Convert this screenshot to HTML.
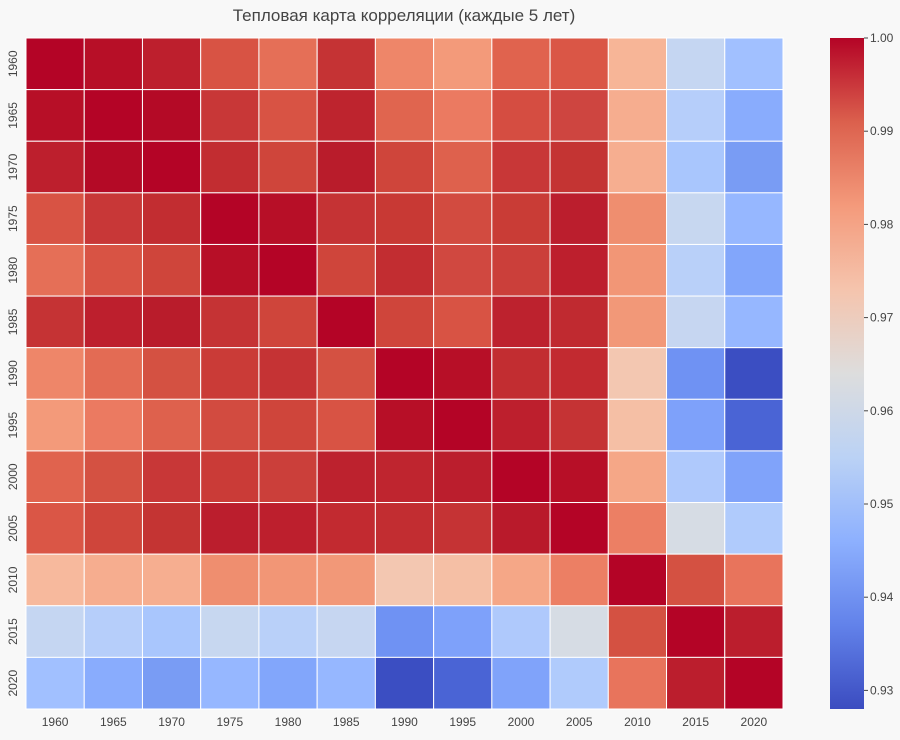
<!DOCTYPE html>
<html><head><meta charset="utf-8"><style>body{margin:0;background:#f8f8f8}svg text{font-family:"Liberation Sans",sans-serif;fill:#444}</style></head>
<body>
<svg id="s" width="900" height="735" xmlns="http://www.w3.org/2000/svg">
<rect width="900" height="735" fill="#f8f8f8"/>
<text x="404" y="21" font-size="17" text-anchor="middle">Тепловая карта корреляции (каждые 5 лет)</text>
<g id="g"></g>
</svg>
<script>
const C=[
"b40426 b70f27 bd1f2d d85344 e56f57 c53334 ee8669 f39a7a e0634e da5646 f7b597 c5d6f2 a1c0ff",
"b70f27 b40426 b40a26 c83737 d85344 be242e e0654f eb7a61 d54d41 ce4540 f6ad8f b6cefa 89acfd",
"bd1f2d b40a26 b40426 c22d31 cf453b b91c2b cf453b de614d c83737 c43433 f6ae90 a9c6fd 799cf4",
"d85344 c83737 c22d31 b40426 b70f27 c53334 c83934 d24b40 c93c36 bb1e2d ef8e6f c7d7f0 96b7ff",
"e56f57 d85344 cf453b b70f27 b40426 cf453b c22d31 d04840 cb3f3a bd1f2d f29676 b9d0f9 82a6fb",
"c53334 bd1f2d b91c2b c53334 cf453b b40426 cf453b d85344 bd222e c02a30 f29878 c6d6f1 96b7ff",
"ee8669 e36b54 d45142 ca3b37 c53334 d45142 b40426 b70f27 c22d31 c22a30 f3c7b1 6f92f3 3b4ec2",
"f39a7a eb7a61 de614d d24b40 cf453b d85344 b70f27 b40426 bd1f2d c53334 f5bfa5 7ea1fa 4a64d5",
"e0634e d45142 c83737 ca3b37 cb3f3a bd222e bf252f bb1e2d b40426 b70f27 f5a787 afc9fc 80a3fa",
"da5646 cf453b c43433 bb1e2d bd1f2d c22a30 c22d31 c53334 b91a2b b40426 ec7f64 d6dce4 b0cbfc",
"f7b99d f6ad8f f6ae90 ef8e6f f29676 f29878 f3c7b1 f5bfa5 f5a787 ec7f64 b40426 d45142 e8745c",
"c5d6f2 b6cefa a9c6fd c7d7f0 b9d0f9 c6d6f1 6f92f3 7ea1fa afc9fc d6dce4 d45142 b40426 bb1e2d",
"a1c0ff 89acfd 799cf4 96b7ff 82a6fb 96b7ff 3b4ec2 4a64d5 80a3fa b0cbfc e8745c bb1e2d b40426"].map(r=>r.split(" "));
const A=[[59,76,192],[98,130,234],[141,176,254],[187,210,245],[221,221,221],[245,196,173],[244,154,123],[219,96,77],[180,4,38]];
const L=26,T=38,W=(783-26)/13,H=(709-38)/13;let h='';
const yrs=[];for(let y=1960;y<=2020;y+=5)yrs.push(y);
for(let r=0;r<13;r++)for(let c=0;c<13;c++)h+=`<rect x="${L+c*W}" y="${T+r*H}" width="${W}" height="${H}" fill="#${C[r][c]}" stroke="#fff" stroke-width="1"/>`;
yrs.forEach((y,i)=>{h+=`<text x="${L+(i+.5)*W}" y="726" font-size="12" text-anchor="middle">${y}</text>`;
let cy=T+(i+.5)*H;h+=`<text x="17" y="${cy}" font-size="12" text-anchor="middle" transform="rotate(-90 17 ${cy})">${y}</text>`});
h+='<defs><linearGradient id="cb" x1="0" y1="1" x2="0" y2="0">';for(let k=0;k<=8;k++)h+=`<stop offset="${k/8}" stop-color="rgb(${A[k]})"/>`;h+='</linearGradient></defs>';
h+='<rect x="830" y="38" width="34" height="671" fill="url(#cb)"/>';
for(let k=0;k<8;k++){let v=1-k*0.01,y=38+k*93.2;h+=`<line x1="864" x2="868" y1="${y}" y2="${y}" stroke="#444"/><text x="870" y="${y+4}" font-size="12">${v.toFixed(2)}</text>`}
document.getElementById('g').innerHTML=h;
</script>
</body></html>
